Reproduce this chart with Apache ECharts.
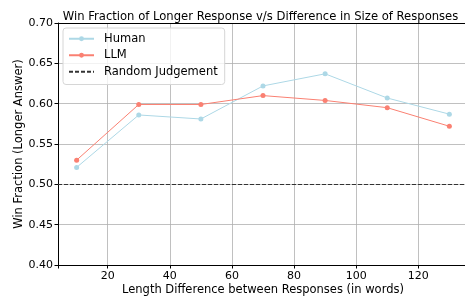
<!DOCTYPE html>
<html>
<head>
<meta charset="utf-8">
<script src="https://cdn.jsdelivr.net/npm/echarts@6/dist/echarts.min.js"></script>
<style>
  html, body { margin: 0; padding: 0; background: #fff; }
  #chart { width: 465px; height: 296px; }
</style>
</head>
<body>
<div id="chart"></div>
<script>
// data
const lengthDiff = [10, 30, 50, 70, 90, 110, 130]
const humanWin = [0.521, 0.586, 0.581, 0.622, 0.637, 0.607, 0.587]
const llmWin = [0.530, 0.599, 0.599, 0.610, 0.604, 0.595, 0.572]
const randomLevel = 0.5

const font = 'DejaVu Sans'
const myChart = echarts.init(document.getElementById('chart'))

const toPoints = (ys) => lengthDiff.map((x, i) => [x, ys[i]])

const option = {
  animation: false,
  textStyle: { fontFamily: font },
  title: {
    text: 'Win Fraction of Longer Response v/s Difference in Size of Responses',
    left: 255.5,
    textAlign: 'center',
    top: 6,
    textStyle: { fontFamily: font, fontSize: 11.6, fontWeight: 'normal', color: '#000' }
  },
  legend: {
    orient: 'vertical',
    left: 63,
    top: 28,
    padding: [4, 7, 6, 5],
    itemGap: 3,
    itemWidth: 25,
    itemHeight: 6,
    backgroundColor: 'rgba(255,255,255,0.8)',
    borderColor: '#d6d6d6',
    borderWidth: 1,
    borderRadius: 3,
    textStyle: { fontFamily: font, fontSize: 11.5, lineHeight: 13.5, color: '#000', padding: [0, 0, 0, 5] },
    data: [
      'Human',
      'LLM',
      { name: 'Random Judgement', itemStyle: { opacity: 0 } }
    ]
  },
  grid: { left: 58, top: 23, width: 410, height: 242, containLabel: false, outerBoundsMode: 'none' },
  xAxis: {
    type: 'value',
    min: 4,
    max: 136,
    splitNumber: 6,
    name: 'Length Difference between Responses (in words)',
    nameLocation: 'middle',
    nameGap: 19,
    nameMoveOverlap: false,
    nameTextStyle: { fontFamily: font, fontSize: 11.5, color: '#000' },
    axisLine: { show: true, lineStyle: { color: '#000', width: 1 } },
    axisTick: { show: true, length: 3.5, lineStyle: { color: '#000' } },
    axisLabel: {
      fontFamily: font, fontSize: 11, color: '#000', margin: 6,
      formatter: (v) => (v % 20 === 0 ? String(v) : '')
    },
    splitLine: { show: true, lineStyle: { color: '#b0b0b0', width: 0.8 } }
  },
  yAxis: {
    type: 'value',
    min: 0.4,
    max: 0.7,
    interval: 0.05,
    name: 'Win Fraction (Longer Answer)',
    nameLocation: 'middle',
    nameGap: 33,
    nameMoveOverlap: false,
    nameTextStyle: { fontFamily: font, fontSize: 11.5, color: '#000' },
    axisLine: { show: true, lineStyle: { color: '#000', width: 1 } },
    axisTick: { show: true, length: 3.5, lineStyle: { color: '#000' } },
    axisLabel: {
      fontFamily: font, fontSize: 11, color: '#000', margin: 5,
      formatter: (v) => v.toFixed(2)
    },
    splitLine: { show: true, lineStyle: { color: '#b0b0b0', width: 0.8 } }
  },
  series: [
    {
      name: 'Human',
      type: 'line',
      data: toPoints(humanWin),
      symbol: 'circle',
      symbolSize: 5,
      color: '#add8e6',
      lineStyle: { width: 1, color: '#add8e6' },
      itemStyle: { color: '#add8e6' }
    },
    {
      name: 'LLM',
      type: 'line',
      data: toPoints(llmWin),
      symbol: 'circle',
      symbolSize: 5,
      color: '#fa8072',
      lineStyle: { width: 1, color: '#fa8072' },
      itemStyle: { color: '#fa8072' }
    },
    {
      name: 'Random Judgement',
      type: 'line',
      data: [],
      symbol: 'none',
      color: '#333',
      lineStyle: { type: [4, 2], width: 1.2, color: '#333' },
      markLine: {
        silent: true,
        symbol: 'none',
        label: { show: false },
        lineStyle: { type: [4, 2], width: 1.2, color: '#333' },
        data: [{ yAxis: randomLevel }]
      }
    },
    // top spine
    {
      type: 'line',
      data: [],
      markLine: {
        silent: true,
        symbol: 'none',
        label: { show: false },
        lineStyle: { type: 'solid', width: 1, color: '#000' },
        data: [{ yAxis: 0.7 }]
      }
    }
  ]
}

myChart.setOption(option)
</script>
</body>
</html>
